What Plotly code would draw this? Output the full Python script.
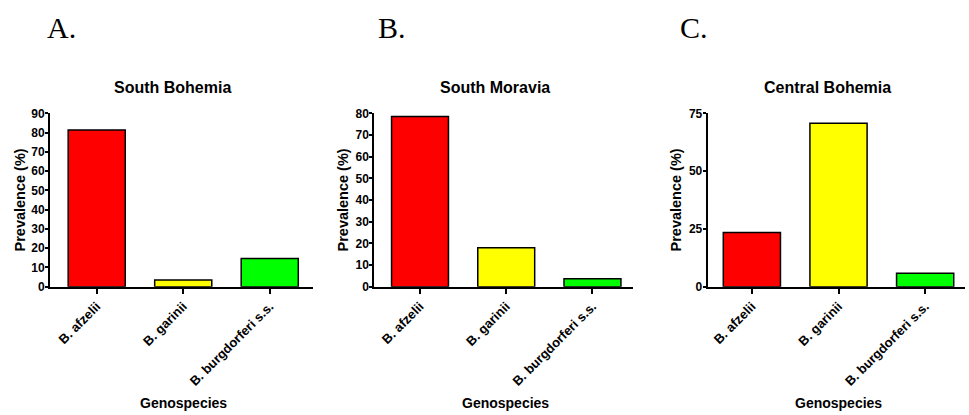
import plotly.graph_objects as go

W, H = 969, 415

categories = ["B. afzelii", "B. garinii", "B. burgdorferi s.s."]
bar_colors = ["#FF0000", "#FFFF00", "#00FF00"]

titles = ["South Bohemia", "South Moravia", "Central Bohemia"]
panel_letters = ["A.", "B.", "C."]

south_bohemia = [81.3, 3.5, 14.6]
south_moravia = [78.5, 18.0, 3.7]
central_bohemia = [23.4, 70.7, 5.8]

y_ranges = [[0, 90], [0, 80], [0, 75]]
y_ticks = [list(range(0, 91, 10)), list(range(0, 81, 10)), [0, 25, 50, 75]]

series = [south_bohemia, south_moravia, central_bohemia]

# layout in pixels
x_domains_px = [(50, 313), (374.3, 633), (707.7, 965)]
x_ranges = [[-0.54, 2.5], [-0.53, 2.47], [-0.51, 2.46]]
y_top_px, y_bot_px = 113.3, 286.7
title_x_px = [172, 494.7, 827]
ytitle_x_px = [19.5, 342.5, 675.5]
xtitle_x_px = [183, 505.7, 838.3]
letter_x_px = [45, 376, 678]


def px(x):
    return x / W


def py(y):
    return 1 - y / H


FONT = "Liberation Sans, Arial, sans-serif"

fig = go.Figure()
annotations = []
for i in range(3):
    sfx = "" if i == 0 else str(i + 1)
    fig.add_trace(go.Bar(
        x=categories, y=series[i],
        marker=dict(color=bar_colors, line=dict(color="black", width=1.5)),
        width=0.66, xaxis="x" + sfx, yaxis="y" + sfx, showlegend=False,
    ))
    fig.layout["xaxis" + sfx] = dict(
        domain=[px(x_domains_px[i][0]), px(x_domains_px[i][1])],
        anchor="y" + sfx, range=x_ranges[i], type="category",
        showline=True, linecolor="black", linewidth=2,
        ticks="outside", ticklen=5, tickwidth=2, tickcolor="black",
        tickangle=-45, showgrid=False, zeroline=False, automargin=False,
        tickfont=dict(family=FONT, size=13, color="black", weight="bold"),
    )
    fig.layout["yaxis" + sfx] = dict(
        domain=[py(y_bot_px), py(y_top_px)],
        anchor="x" + sfx, range=y_ranges[i], tickvals=y_ticks[i],
        showline=True, linecolor="black", linewidth=2,
        ticks="outside", ticklen=3, tickwidth=2, tickcolor="black",
        showgrid=False, zeroline=False, automargin=False,
        ticklabelstandoff=-2,
        tickfont=dict(family=FONT, size=12, color="black", weight="bold"),
    )
    annotations.append(dict(
        text=titles[i], x=px(title_x_px[i]), y=py(87.5), xref="paper", yref="paper",
        xanchor="center", yanchor="middle", showarrow=False,
        font=dict(family=FONT, size=16, color="black", weight="bold")))
    annotations.append(dict(
        text="Prevalence (%)", x=px(ytitle_x_px[i]), y=py(200), xref="paper", yref="paper",
        xanchor="center", yanchor="middle", showarrow=False, textangle=-90,
        font=dict(family=FONT, size=14.5, color="black", weight="bold")))
    annotations.append(dict(
        text="Genospecies", x=px(xtitle_x_px[i]), y=py(403), xref="paper", yref="paper",
        xanchor="center", yanchor="middle", showarrow=False,
        font=dict(family=FONT, size=14, color="black", weight="bold")))
    annotations.append(dict(
        text=panel_letters[i], x=px(letter_x_px[i]), y=py(28), xref="paper", yref="paper",
        xanchor="left", yanchor="middle", showarrow=False,
        font=dict(family="Liberation Serif, Times New Roman, serif", size=30, color="black")))

fig.update_layout(
    width=W, height=H, margin=dict(l=0, r=0, t=0, b=0, pad=0, autoexpand=False),
    paper_bgcolor="white", plot_bgcolor="white",
    annotations=annotations, bargap=0.34,
)

fig.write_html("out.html")
